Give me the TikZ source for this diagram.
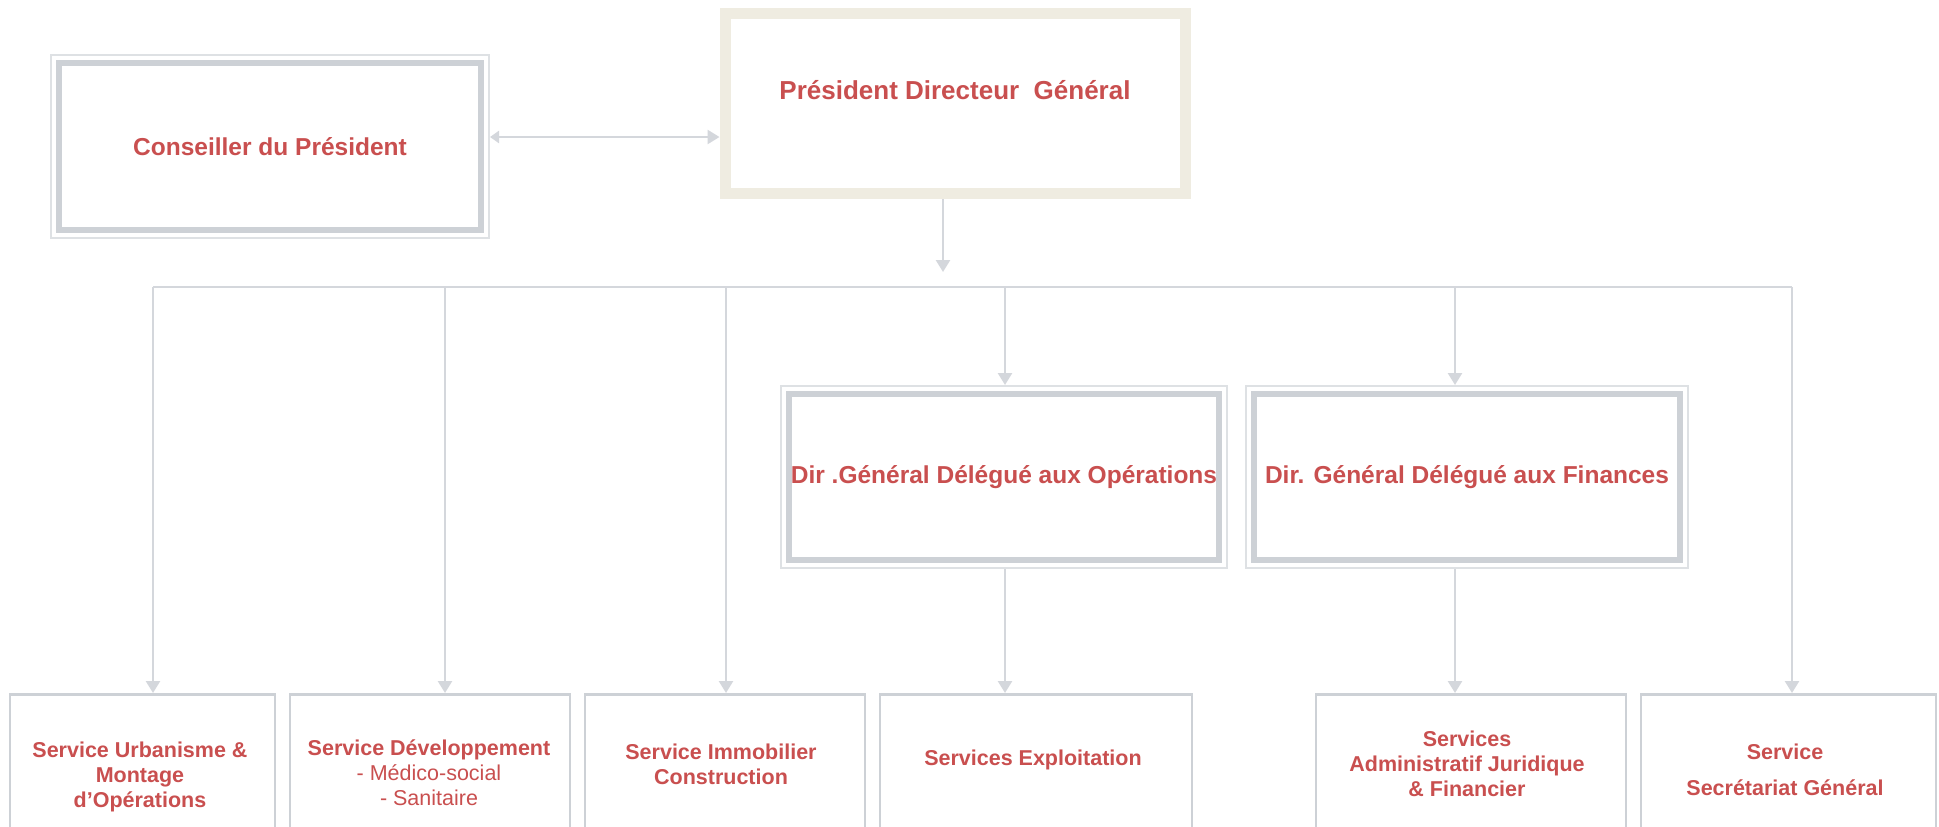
\documentclass[tikz,border=0pt]{standalone}
\usepackage{fontspec}
\setmainfont{Liberation Sans}
\usetikzlibrary{arrows.meta,calc}
\definecolor{txtred}{RGB}{201,79,79}
\definecolor{bandc}{RGB}{205,209,214}
\definecolor{rimc}{RGB}{222,225,228}
\definecolor{beigec}{RGB}{239,236,225}
\definecolor{linec}{RGB}{212,215,220}
\begin{document}
\begin{tikzpicture}[x=1pt,y=-1pt,
  frame/.style={draw=bandc, line width=6.5pt, fill=white, rectangle, inner sep=0pt, outer sep=9pt,
    font=\fontsize{24.5}{29}\selectfont\bfseries, text=txtred, align=center},
  pdgbox/.style={draw=beigec, line width=11pt, fill=white, rectangle, inner sep=0pt, outer sep=5.5pt,
    font=\fontsize{26}{31}\selectfont\bfseries, text=txtred},
  rim/.style={draw=rimc, line width=2pt},
  sbox/.style={draw=bandc, line width=2.5pt, fill=white, rectangle, inner sep=0pt, outer sep=1.25pt, anchor=north, minimum height=150},
  stxt/.style={font=\fontsize{21.5}{25}\selectfont\bfseries, text=txtred, align=center, inner sep=0pt},
  conn/.style={draw=linec, line width=2.5pt},
  arr/.style={conn, -{Triangle[width=14pt,length=12pt]}},
]
\clip (0,0) rectangle (1939,827);
\fill[white] (0,0) rectangle (1939,827);

% framed boxes
\node[frame, minimum width=422, minimum height=167] (cons) at (270,146.5) {Conseiller du Président};
\draw[rim] ([shift={(1,1)}]cons.north west) rectangle ([shift={(-1,-1)}]cons.south east);
\node[pdgbox, minimum width=460, minimum height=180, text height=19pt, text depth=27pt] (pdg) at (955,103.5) {Président Directeur~~Général};
\node[frame, minimum width=430, minimum height=166] (dop) at (1004,477) {Dir .Général Délégué aux Opérations};
\draw[rim] ([shift={(1,1)}]dop.north west) rectangle ([shift={(-1,-1)}]dop.south east);
\node[frame, minimum width=426, minimum height=166] (dfin) at (1467,477) {Dir. Général Délégué aux Finances};
\draw[rim] ([shift={(1,1)}]dfin.north west) rectangle ([shift={(-1,-1)}]dfin.south east);

% bottom boxes
\node[sbox, minimum width=265] (s1) at (142.5,693) {};
\node[sbox, minimum width=280] (s2) at (430,693) {};
\node[sbox, minimum width=280] (s3) at (725,693) {};
\node[sbox, minimum width=312] (s4) at (1036,693) {};
\node[sbox, minimum width=310] (s5) at (1471,693) {};
\node[sbox, minimum width=295] (s6) at (1788.5,693) {};

\node[stxt] (t1) at (140,777) {Service Urbanisme \&\\Montage\\d’Opérations};
\node[stxt] (t2) at (429,773) {Service Développement\\{\mdseries - Médico-social}\\{\mdseries - Sanitaire}};
\node[stxt] (t3) at (721,764) {Service Immobilier\\Construction};
\node[stxt] (t4) at (1033,760) {Services Exploitation};
\node[stxt] (t5) at (1467,764) {Services\\Administratif Juridique\\\& Financier};
\node[stxt] (t6) at (1785,770) {Service\\[11pt]Secrétariat Général};

% connectors
\coordinate (h) at (0,137);
\draw[conn, {Triangle[width=12pt,length=9pt]}-{Triangle[width=14pt,length=12pt]}] (cons.east |- h) -- (pdg.west |- h);
\coordinate (j) at (943,272);
\draw[arr] (pdg.south -| j) -- (j);

\coordinate (d1) at (153,287);
\coordinate (d2) at (445,287);
\coordinate (d3) at (726,287);
\coordinate (d4) at (1005,287);
\coordinate (d5) at (1455,287);
\coordinate (d6) at (1792,287);
\draw[conn] (d1) -- (d6);
\draw[arr] (d1) -- (d1 |- s1.north);
\draw[arr] (d2) -- (d2 |- s2.north);
\draw[arr] (d3) -- (d3 |- s3.north);
\draw[arr] (d4) -- (d4 |- dop.north);
\draw[arr] (d5) -- (d5 |- dfin.north);
\draw[arr] (d6) -- (d6 |- s6.north);
\draw[arr] (d4 |- dop.south) -- (d4 |- s4.north);
\draw[arr] (d5 |- dfin.south) -- (d5 |- s5.north);
\end{tikzpicture}
\end{document}
